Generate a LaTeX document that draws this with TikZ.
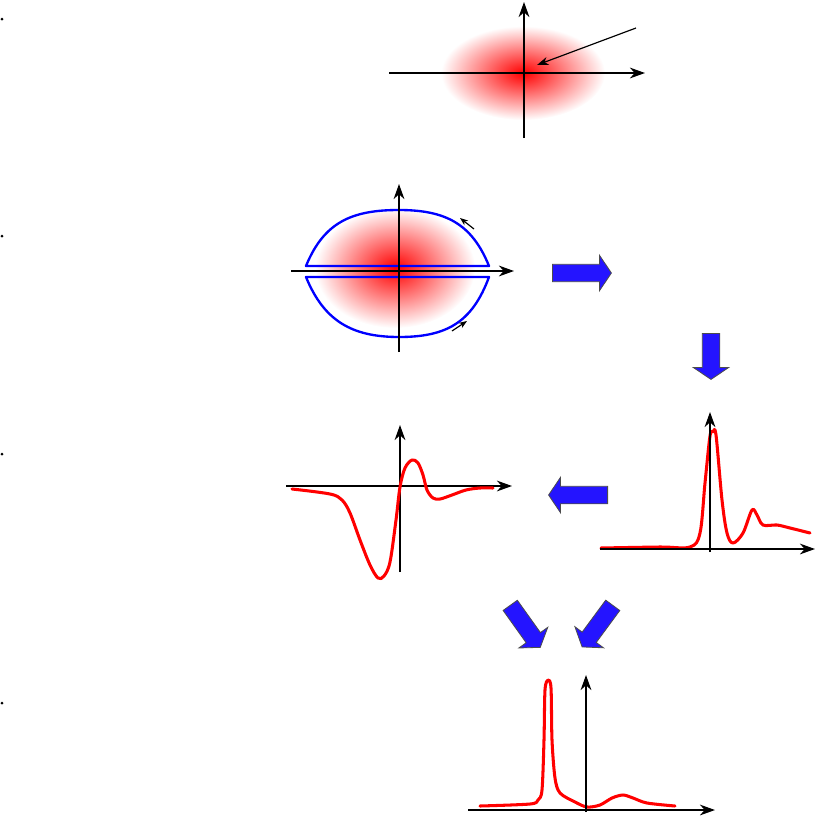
\documentclass[tikz,border=0pt]{standalone}
\usepackage{tikz}
\usetikzlibrary{arrows.meta, shapes.arrows, positioning}
\definecolor{flowblue}{RGB}{36,20,255}
\tikzstyle{axis} = [line width=1.8pt, -{Stealth[length=4.5mm, width=3.2mm, inset=1.4mm]}]
\tikzstyle{pointer} = [line width=1pt, -{Stealth[length=3.4mm, width=2.4mm, inset=1mm]}]
\tikzstyle{spin} = [line width=1pt, -{Stealth[length=2.4mm, width=1.8mm, inset=0.7mm]}]
\tikzstyle{signal} = [red, line width=2.6pt, line join=round, line cap=round]
\tikzstyle{contour} = [blue, line width=2pt, line join=round]
\tikzstyle{flow} = [single arrow, draw=black!70, line width=0.7pt, fill=flowblue, inner sep=2.5mm, minimum width=0pt, single arrow head extend=2.7mm, single arrow tip angle=112, anchor=tail]
\tikzstyle{dot} = [circle, fill=black, inner sep=0pt, minimum size=0.9mm]

\begin{document}
\begin{tikzpicture}[x=0.3mm, y=-0.3mm]
\useasboundingbox (0,0) rectangle (820,818);

% bullets
\node (b1) [dot] at (2,19) {};
\node (b2) [dot] at (2,236) {};
\node (b3) [dot] at (2,454) {};
\node (b4) [dot] at (2,703) {};

% panel 1
\shade[inner color=red, outer color=white] (523,73) ellipse [x radius=82, y radius=47];
\coordinate (p1x0) at (389,73);
\coordinate (p1x1) at (645,73);
\coordinate (p1y0) at (524,138);
\coordinate (p1y1) at (524,2);
\draw [axis] (p1x0) -- (p1x1);
\draw [axis] (p1y0) -- (p1y1);
\coordinate (p1tail) at (636,28);
\coordinate (p1tip) at (537,65);
\draw [pointer] (p1tail) -- (p1tip);

% panel 2
\shade[inner color=red, outer color=white] (395,268) ellipse [x radius=80, y radius=60];
\draw [contour] (306,266) .. controls (324,222) and (352,210) .. (399,210) .. controls (446,210) and (472,224) .. (489,266) -- cycle;
\draw [contour] (306,277) .. controls (324,321) and (352,337) .. (399,337) .. controls (446,337) and (472,323) .. (489,277) -- cycle;
\coordinate (p2x0) at (291,271);
\coordinate (p2x1) at (514,271);
\coordinate (p2y0) at (399,352);
\coordinate (p2y1) at (399,184);
\draw [axis] (p2x0) -- (p2x1);
\draw [axis] (p2y0) -- (p2y1);
\coordinate (s1tail) at (474,229);
\coordinate (s1tip) at (460,218);
\coordinate (s2tail) at (452,331);
\coordinate (s2tip) at (467,321);
\draw [spin] (s1tail) -- (s1tip);
\draw [spin] (s2tail) -- (s2tip);

% flow arrows
\node (f1) [flow, minimum height=17.7mm] at (552,273) {};
\node (f2) [flow, minimum height=13.8mm, rotate=-90] at (711,333) {};
\node (f3) [flow, minimum height=17.7mm, rotate=180] at (608,495) {};
\node (f4) [flow, minimum height=15.5mm, rotate=-54.5] at (510,605) {};
\node (f5) [flow, minimum height=15.5mm, rotate=-126.4] at (613,605) {};

% panel 3, right
\draw [signal] plot[smooth, tension=0.55] coordinates {(601,548) (660,547) (690,547) (700,533) (705,483) (710,436) (713,432) (716,435) (722,500) (727,533) (733,543) (743,533) (752,510) (757,515) (763,525) (777,525) (790,528) (810,533)};
\coordinate (p3x0) at (600,549);
\coordinate (p3x1) at (815,549);
\coordinate (p3y0) at (710,552);
\coordinate (p3y1) at (710,412);
\draw [axis] (p3x0) -- (p3x1);
\draw [axis] (p3y0) -- (p3y1);

% panel 3, left
\coordinate (p4x0) at (286,486);
\coordinate (p4x1) at (512,486);
\coordinate (p4y0) at (400,572);
\coordinate (p4y1) at (400,425);
\draw [axis] (p4x0) -- (p4x1);
\draw [axis] (p4y0) -- (p4y1);
\draw [signal] plot[smooth, tension=0.55] coordinates {(292,489) (330,494) (342,500) (350,513) (360,540) (370,565) (378,578) (384,576) (390,562) (396,520) (400,487) (405,468) (412,460) (418,463) (423,475) (427,490) (433,498) (440,499) (452,495) (466,490) (480,488) (493,488)};

% panel 4
\draw [signal] plot[smooth, tension=0.5] coordinates {(480,806) (530,804) (538,800) (542,790) (544,740) (545,690) (548,680) (551,688) (552,740) (555,778) (560,793) (575,802) (587,807) (600,805) (612,798) (623,795) (633,798) (647,803) (675,806)};
\coordinate (p5x0) at (468,810);
\coordinate (p5x1) at (715,810);
\coordinate (p5y0) at (586,812);
\coordinate (p5y1) at (586,675);
\draw [axis] (p5x0) -- (p5x1);
\draw [axis] (p5y0) -- (p5y1);
\end{tikzpicture}
\end{document}
